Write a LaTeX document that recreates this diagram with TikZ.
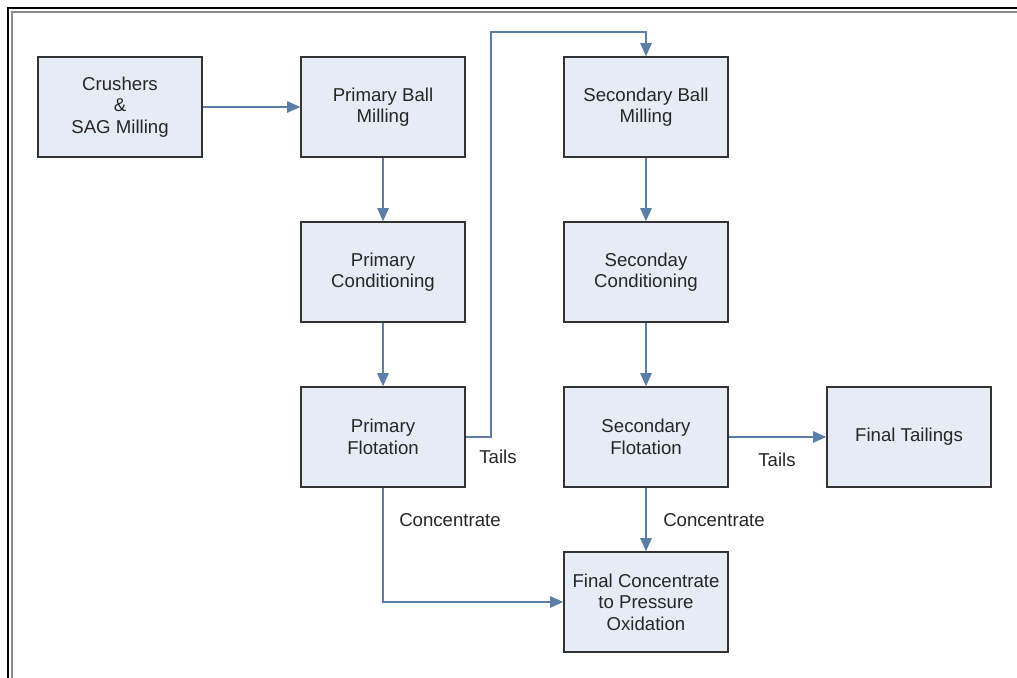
\documentclass[tikz,border=0pt]{standalone}
\usepackage{fontspec}
\setmainfont{Liberation Sans}
\usetikzlibrary{arrows.meta}
\definecolor{boxfill}{HTML}{E6ECF6}
\definecolor{flowline}{HTML}{5A7EA6}

\begin{document}
\begin{tikzpicture}[x=0.02cm, y=-0.02cm, font=\fontsize{10.6}{12.3}\selectfont, text=black!85]
\tikzset{stage/.style={draw=black!80, fill=boxfill, line width=0.8pt, minimum width=3.28cm, minimum height=2cm, inner sep=0pt, align=center},
  flow/.style={draw=flowline, line width=0.8pt, -{Triangle[length=7.5pt,width=6.5pt]}}}

\useasboundingbox (0,0) rectangle (1017,678);
\draw[line width=1.4pt] (8,678) -- (8,8) -- (1017,8);
\draw[black!45, line width=0.6pt] (12,678) -- (12,12) -- (1017,12);

\node[name=crush, stage] at (120,107) {Crushers\\\&\\SAG Milling};
\node[name=pbm, stage] at (383,107) {Primary Ball\\Milling};
\node[name=sbm, stage] at (646,107) {Secondary Ball\\Milling};
\node[name=pcond, stage] at (383,272) {Primary\\Conditioning};
\node[name=scond, stage] at (646,272) {Seconday\\Conditioning};
\node[name=pflot, stage] at (383,437) {Primary\\Flotation};
\node[name=sflot, stage] at (646,437) {Secondary\\Flotation};
\node[name=tail, stage] at (909,437) {Final Tailings};
\node[name=conc, stage] at (646,602) {Final Concentrate\\to Pressure\\Oxidation};

\node[name=ptails] at (498,457) {Tails};
\node[name=stails] at (777,460) {Tails};
\node[name=pconc] at (450,520) {Concentrate};
\node[name=sconc] at (714,520) {Concentrate};

\draw[flow] (crush) -- (pbm);
\draw[flow] (pbm) -- (pcond);
\draw[flow] (pcond) -- (pflot);
\draw[flow] (pflot.east) -- (491,437) -- (491,32) -- (646,32) -- (sbm.north);
\draw[flow] (sbm) -- (scond);
\draw[flow] (scond) -- (sflot);
\draw[flow] (sflot) -- (tail);
\draw[flow] (sflot) -- (conc);
\draw[flow] (pflot.south) |- (conc.west);
\end{tikzpicture}
\end{document}
